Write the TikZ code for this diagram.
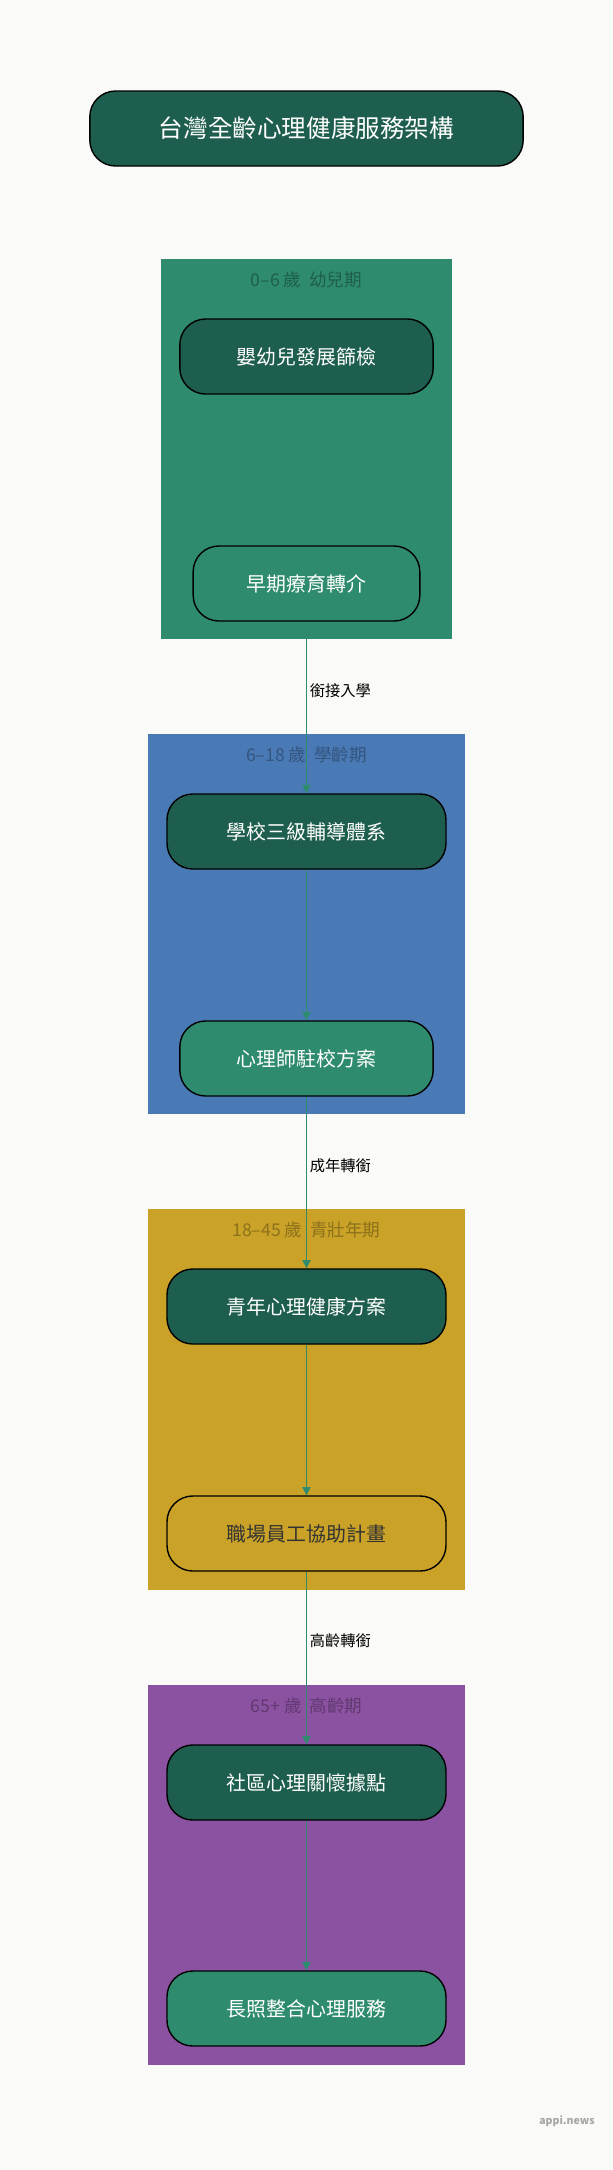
\documentclass[tikz,border=0pt]{standalone}
\usepackage{fontspec}
\setmainfont{Noto Sans CJK TC}
\usetikzlibrary{arrows.meta}
\definecolor{bgc}{HTML}{FAFAF8}
\definecolor{dkgreen}{HTML}{1E5E4E}
\definecolor{tealc}{HTML}{2E8B6E}
\definecolor{bluec}{HTML}{4A7AB5}
\definecolor{goldc}{HTML}{C9A227}
\definecolor{purc}{HTML}{8B52A1}
\def\fs{\fontsize{17}{20}\selectfont}

\begin{document}
\begin{tikzpicture}[x=0.03cm,y=-0.03cm,>={Triangle[length=7pt,width=7pt]}]
\tikzset{
  svc/.style={draw=black,line width=1.2pt,rounded corners=22pt,minimum height=2.25cm,text=white,font=\fs},
  flow/.style={->,draw=tealc,line width=1.3pt},
  tag/.style={font=\fontsize{13}{15}\selectfont,anchor=west},
  age/.style={font=\fontsize{15}{18}\selectfont}
}
\fill[bgc] (0,0) rectangle (613,2170);
\useasboundingbox (0,0) rectangle (613,2170);
% title
\node[svc,fill=dkgreen,minimum width=13cm,font=\fontsize{21}{24}\selectfont] (title) at (306.5,128.5) {台灣全齡心理健康服務架構};
% stage boxes
\fill[tealc] (161,259) rectangle (452,639);
\fill[bluec] (148,734) rectangle (465,1114);
\fill[goldc] (148,1209) rectangle (465,1590);
\fill[purc] (148,1685) rectangle (465,2065);
\node[age,text=dkgreen] (s1) at (306.5,280) {0–6 歲\ \ 幼兒期};
\node[age,text=bluec!70!black] (s2) at (306.5,755) {6–18 歲\ \ 學齡期};
\node[age,text=goldc!70!black] (s3) at (306.5,1230) {18–45 歲\ \ 青壯年期};
\node[age,text=purc!70!black] (s4) at (306.5,1706) {65+ 歲\ \ 高齡期};
% services
\node[svc,fill=dkgreen,minimum width=7.6cm] (a) at (306.5,356.5) {嬰幼兒發展篩檢};
\node[svc,fill=tealc,minimum width=6.8cm] (b) at (306.5,583.5) {早期療育轉介};
\node[svc,fill=dkgreen,minimum width=8.37cm] (c) at (306.5,831.5) {學校三級輔導體系};
\node[svc,fill=tealc,minimum width=7.6cm] (d) at (306.5,1058.5) {心理師駐校方案};
\node[svc,fill=dkgreen,minimum width=8.37cm] (e) at (306.5,1306.5) {青年心理健康方案};
\node[svc,fill=goldc,minimum width=8.37cm,text=black!80] (f) at (306.5,1533.5) {職場員工協助計畫};
\node[svc,fill=dkgreen,minimum width=8.37cm] (g) at (306.5,1782.5) {社區心理關懷據點};
\node[svc,fill=tealc,minimum width=8.37cm] (h) at (306.5,2008.5) {長照整合心理服務};
% links
\draw[flow] (b) -- (c) node[tag,pos=0.4,xshift=-1pt] {銜接入學};
\draw[flow] (c) -- (d);
\draw[flow] (d) -- (e) node[tag,pos=0.4,xshift=-1pt] {成年轉銜};
\draw[flow] (e) -- (f);
\draw[flow] (f) -- (g) node[tag,pos=0.4,xshift=-1pt] {高齡轉銜};
\draw[flow] (g) -- (h);
\node[text=black!35,font=\bfseries\fontsize{9}{11}\selectfont] (mark) at (567,2121) {appi.news};
\end{tikzpicture}
\end{document}
